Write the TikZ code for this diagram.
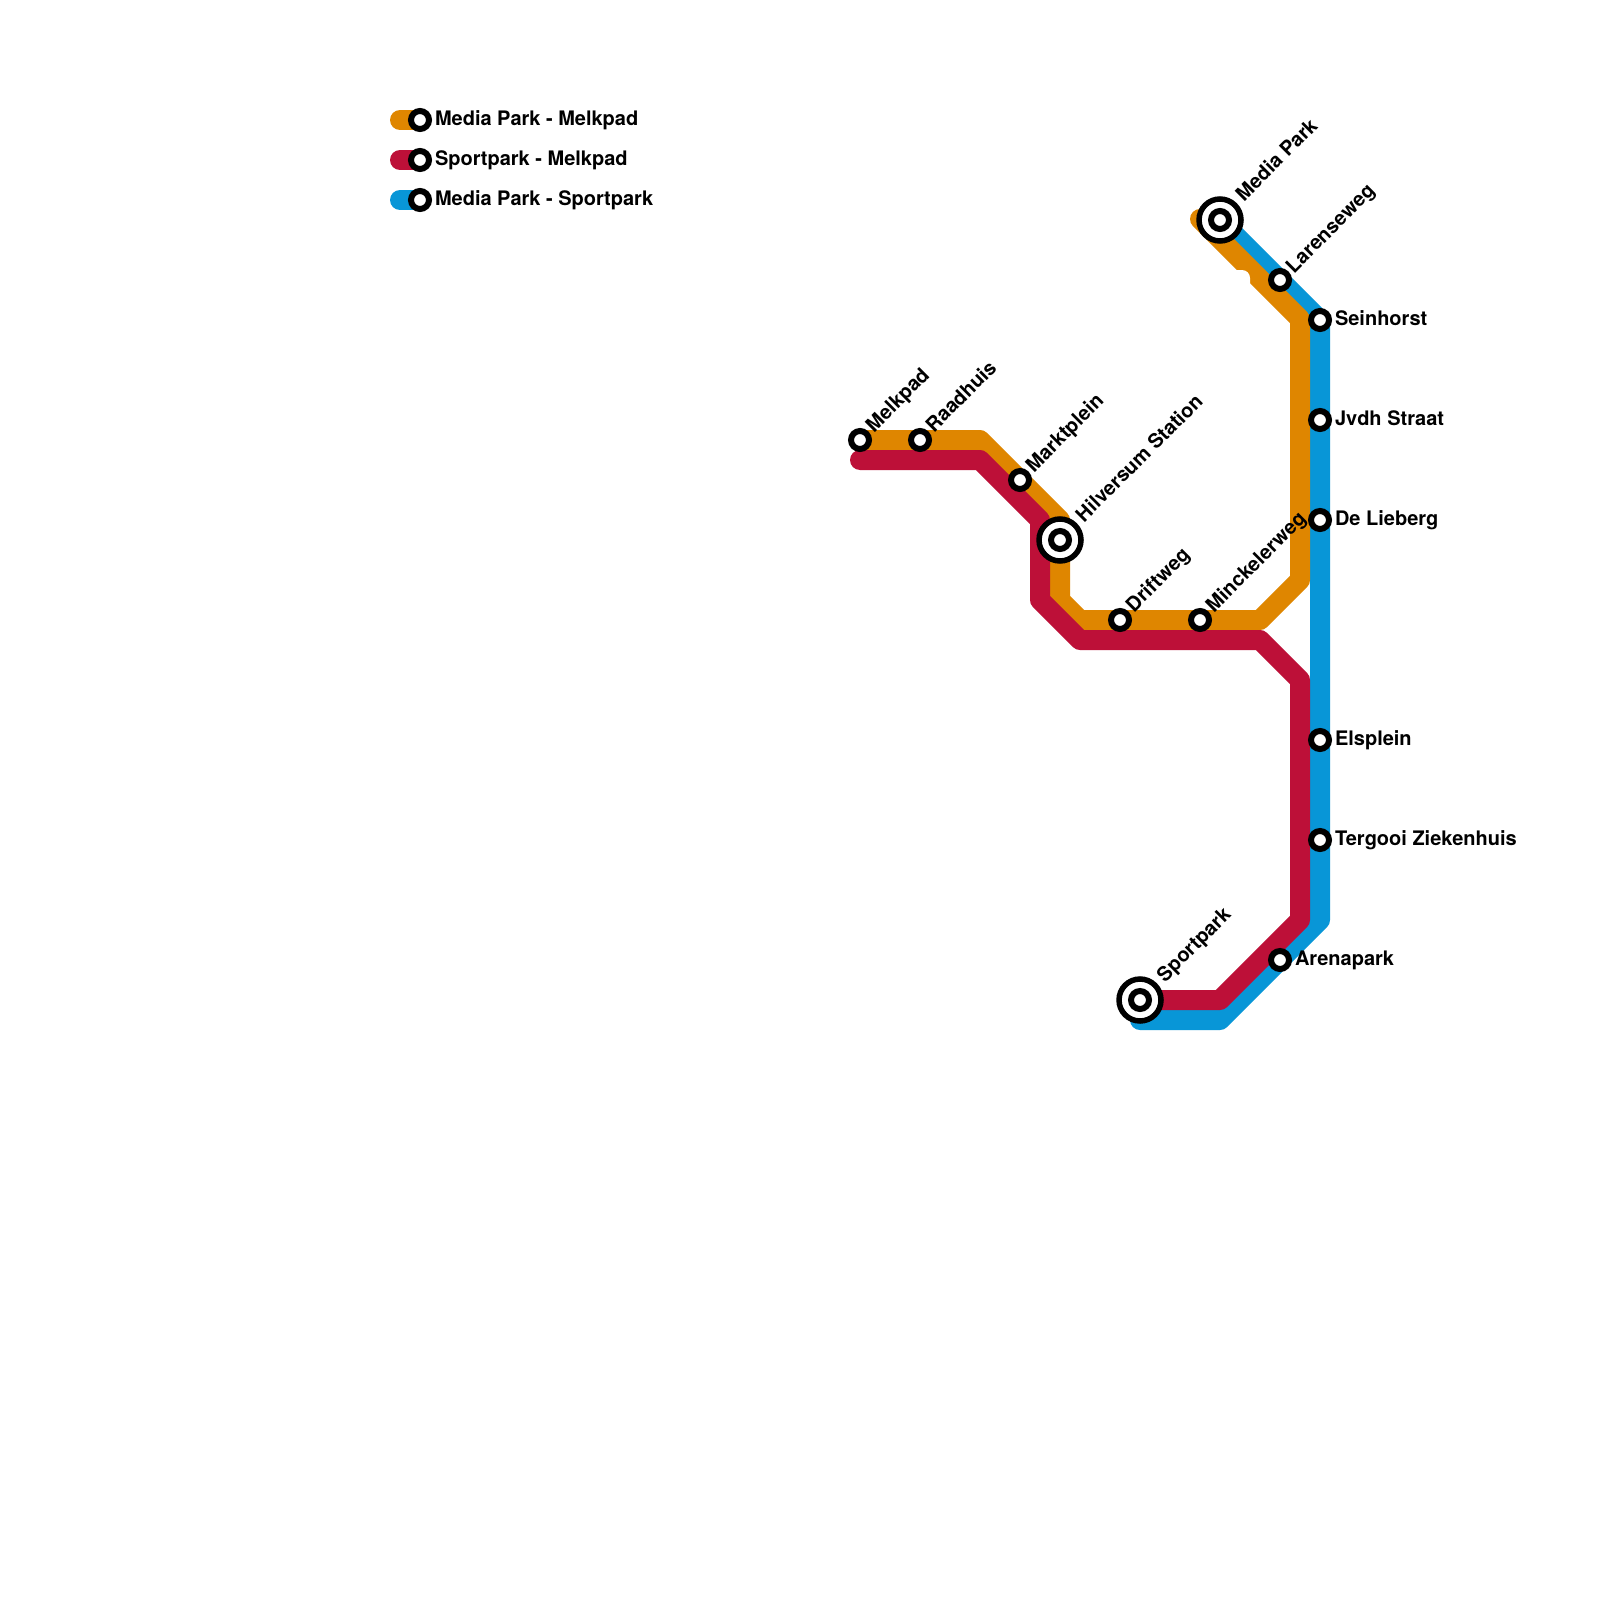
\documentclass[tikz,border=0pt]{standalone}
\usepackage{fontspec}
\setmainfont{TeX Gyre Heros}
\definecolor{lineorange}{HTML}{DF8600}
\definecolor{linered}{HTML}{BD1038}
\definecolor{lineblue}{HTML}{0896D7}
\tikzset{
  metroline/.style={line width=20pt,line cap=round,line join=round},
  stn/.style={circle,draw=black,fill=white,line width=6pt,minimum size=18pt,inner sep=0pt,outer sep=0pt},
  hub/.style={circle,draw=black,fill=white,line width=5.5pt,minimum size=42pt,inner sep=0pt,outer sep=0pt},
  lbl/.style={anchor=base west,inner sep=0pt,outer sep=0pt,font=\fontsize{20pt}{24pt}\selectfont\bfseries},
  dlbl/.style={lbl,rotate=45}
}
\begin{document}
\begin{tikzpicture}[x=1pt,y=-1pt]
\useasboundingbox (0,0) rectangle (1600,1600);
\fill[white] (0,0) rectangle (1600,1600);
% waypoints
\coordinate (mp) at (1220,220);
\coordinate (sein) at (1320,320);
\coordinate (bb1) at (1320,920);
\coordinate (bb2) at (1220,1020);
\coordinate (bb3) at (1140,1020);
\coordinate (oa) at (1200,219);
\coordinate (ob) at (1300,319);
\coordinate (oc) at (1300,580);
\coordinate (od) at (1260,620);
\coordinate (oe) at (1080,620);
\coordinate (of) at (1060,600);
\coordinate (og) at (1060,520);
\coordinate (oh) at (980,440);
\coordinate (oi) at (860,440);
\coordinate (ra) at (860,460);
\coordinate (rb) at (980,460);
\coordinate (rc) at (1040,520);
\coordinate (rd) at (1040,600);
\coordinate (re) at (1080,640);
\coordinate (rf) at (1260,640);
\coordinate (rg) at (1300,680);
\coordinate (rh) at (1300,920);
\coordinate (ri) at (1220,1000);
\coordinate (rj) at (1140,1000);
\coordinate (k1a) at (400,120);
\coordinate (k2a) at (400,160);
\coordinate (k3a) at (400,200);
\coordinate (k1b) at (420,120);
\coordinate (k2b) at (420,160);
\coordinate (k3b) at (420,200);
% lines
\draw[metroline,lineblue] (mp) -- (sein) -- (bb1) -- (bb2) -- (bb3);
\draw[metroline,lineorange] (oa) -- (ob) -- (oc) -- (od) -- (oe) -- (of) -- (og) -- (oh) -- (oi);
\fill[white] (1235,270) -- (1242,270) .. controls (1246.4,270) and (1250,273.6) .. (1250,278) -- (1250,285) -- cycle;
\draw[metroline,linered] (ra) -- (rb) -- (rc) -- (rd) -- (re) -- (rf) -- (rg) -- (rh) -- (ri) -- (rj);
% legend
\draw[metroline,lineorange] (k1a) -- (k1b);
\draw[metroline,linered] (k2a) -- (k2b);
\draw[metroline,lineblue] (k3a) -- (k3b);
\node[stn] (k1) at (k1b) {};
\node[stn] (k2) at (k2b) {};
\node[stn] (k3) at (k3b) {};
\node[lbl] (t1) at (435,125) {Media Park - Melkpad};
\node[lbl] (t2) at (435,165) {Sportpark - Melkpad};
\node[lbl] (t3) at (435,205) {Media Park - Sportpark};
% stations
\node[stn] (melkpad) at (860,440) {};
\node[stn] (raadhuis) at (920,440) {};
\node[stn] (markt) at (1020,480) {};
\node[stn] (drift) at (1120,620) {};
\node[stn] (minck) at (1200,620) {};
\node[stn] (laren) at (1280,280) {};
\node[stn] (seinh) at (1320,320) {};
\node[stn] (jvdh) at (1320,420) {};
\node[stn] (lieb) at (1320,520) {};
\node[stn] (els) at (1320,740) {};
\node[stn] (terg) at (1320,840) {};
\node[stn] (arena) at (1280,960) {};
\node[hub] (hilvO) at (1060,540) {};
\node[stn] (hilv) at (1060,540) {};
\node[hub] (mediaO) at (1220,220) {};
\node[stn] (media) at (1220,220) {};
\node[hub] (sportO) at (1140,1000) {};
\node[stn] (sport) at (1140,1000) {};
% labels
\node[lbl] (l1) at (1335,325) {Seinhorst};
\node[lbl] (l2) at (1335,425) {Jvdh Straat};
\node[lbl] (l3) at (1335,525) {De Lieberg};
\node[lbl] (l4) at (1335,745) {Elsplein};
\node[lbl] (l5) at (1335,845) {Tergooi Ziekenhuis};
\node[lbl] (l6) at (1295,965) {Arenapark};
\node[dlbl] (d1) at (874,433) {Melkpad};
\node[dlbl] (d2) at (934,433) {Raadhuis};
\node[dlbl] (d3) at (1034,473) {Marktplein};
\node[dlbl] (d4) at (1084,523) {Hilversum Station};
\node[dlbl] (d5) at (1134,613) {Driftweg};
\node[dlbl] (d6) at (1214,613) {Minckelerweg};
\node[dlbl] (d7) at (1244,202) {Media Park};
\node[dlbl] (d8) at (1294,274) {Larenseweg};
\node[dlbl] (d9) at (1165,983) {Sportpark};
\end{tikzpicture}
\end{document}
